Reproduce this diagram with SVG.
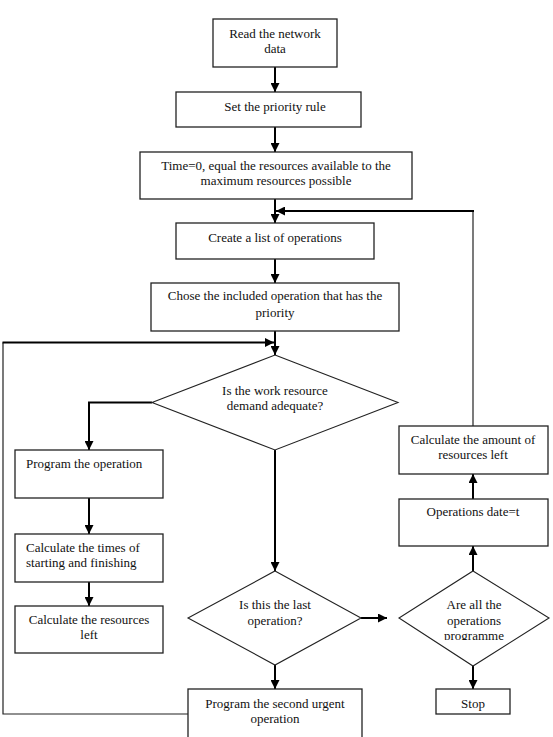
<svg xmlns="http://www.w3.org/2000/svg" width="553" height="737" viewBox="0 0 553 737">
<style>
  .box{fill:#fff;stroke:#222;stroke-width:1.3}
  .dia{fill:#fff;stroke:#222;stroke-width:1.1}
  .t{font-family:"Liberation Serif","Times New Roman",serif;font-size:13px;fill:#111;text-anchor:middle}
  .tl{font-family:"Liberation Serif","Times New Roman",serif;font-size:13px;fill:#111;text-anchor:start}
  .a{fill:none;stroke:#000;stroke-width:2;marker-end:url(#ah)}
  .thick{fill:none;stroke:#000;stroke-width:2}
  .thin{fill:none;stroke:#222;stroke-width:1.2}
</style>
<defs>
  <marker id="ah" viewBox="0 0 10 10" refX="10" refY="5" markerUnits="userSpaceOnUse" markerWidth="9" markerHeight="9" orient="auto">
    <path d="M0,0 L10,5 L0,10 z" fill="#000"/>
  </marker>
  <clipPath id="clip3"><rect x="390" y="560" width="170" height="80"/></clipPath>
</defs>
<rect width="553" height="737" fill="#fff"/>

<g id="connectors">
  <path class="a" d="M275,67 V92"/>
  <path class="a" d="M275,127 V152"/>
  <path class="a" d="M275,199 V223"/>
  <path class="a" d="M275,259 V283"/>
  <path class="a" d="M275,331 V355"/>
  <path class="a" d="M152,402.5 H89 V450"/>
  <path class="a" d="M89,498 V534"/>
  <path class="a" d="M89,582 V606"/>
  <path class="a" d="M275,450 V571"/>
  <path class="a" d="M275,665 V689"/>
  <path class="a" d="M361,618 H387"/>
  <path class="a" d="M473,571 V546"/>
  <path class="a" d="M473,499 V474"/>
  <path class="a" d="M473,666 V689"/>
  <path class="thin" d="M473,426 V211"/>
  <path class="a" d="M474,211 H276"/>
  <path class="thin" d="M188,714 H3 V342.5"/>
  <path class="a" d="M2.5,342.5 H274"/>
</g>

<g id="n1">
  <rect class="box" x="213" y="19" width="124" height="48"/>
  <text class="t" x="275" y="37.5">Read the network</text>
  <text class="t" x="275" y="53">data</text>
</g>
<g id="n2">
  <rect class="box" x="176" y="92" width="185" height="35"/>
  <text class="t" x="275" y="110.5">Set the priority rule</text>
</g>
<g id="n3">
  <rect class="box" x="140" y="152" width="272" height="47"/>
  <text class="t" x="276" y="169.5">Time=0, equal the resources available to the</text>
  <text class="t" x="276" y="185">maximum resources possible</text>
</g>
<g id="n4">
  <rect class="box" x="176" y="223" width="198" height="36"/>
  <text class="t" x="275" y="242">Create a list of operations</text>
</g>
<g id="n5">
  <rect class="box" x="151" y="283" width="248" height="48"/>
  <text class="t" x="275" y="300">Chose the included operation that has the</text>
  <text class="t" x="275" y="316.5">priority</text>
</g>
<g id="d1">
  <polygon class="dia" points="275,355 398,402.5 275,450 152,402.5"/>
  <text class="t" x="275" y="394.5">Is the work resource</text>
  <text class="t" x="275" y="410">demand adequate?</text>
</g>
<g id="n6">
  <rect class="box" x="15" y="450" width="148" height="48"/>
  <text class="tl" x="26" y="468">Program the operation</text>
</g>
<g id="n7">
  <rect class="box" x="15" y="534" width="148" height="48"/>
  <text class="tl" x="26" y="551.5">Calculate the times of</text>
  <text class="tl" x="26" y="566.5">starting and finishing</text>
</g>
<g id="n8">
  <rect class="box" x="15" y="606" width="148" height="47"/>
  <text class="t" x="89" y="623.5">Calculate the resources</text>
  <text class="t" x="89" y="638.5">left</text>
</g>
<g id="d2">
  <polygon class="dia" points="275,571 361,618 275,665 188,618"/>
  <text class="t" x="275" y="608.5">Is this the last</text>
  <text class="t" x="275" y="625">operation?</text>
</g>
<g id="n9">
  <rect class="box" x="188" y="689" width="174" height="60"/>
  <text class="t" x="275" y="707.5">Program the second urgent</text>
  <text class="t" x="275" y="722.5">operation</text>
</g>
<g id="d3">
  <polygon class="dia" points="473,571 549,618 473,666 399,618"/>
  <g clip-path="url(#clip3)">
    <text class="t" x="474" y="608.5">Are all the</text>
    <text class="t" x="474" y="624.5">operations</text>
    <text class="t" x="474" y="640">programme</text>
  </g>
</g>
<g id="stop">
  <rect class="box" x="436" y="689" width="74" height="25"/>
  <text class="t" x="473" y="707.5">Stop</text>
</g>
<g id="n10">
  <rect class="box" x="399" y="499" width="149" height="47"/>
  <text class="t" x="473" y="516">Operations date=t</text>
</g>
<g id="n11">
  <rect class="box" x="399" y="426" width="149" height="48"/>
  <text class="t" x="473" y="443.5">Calculate the amount of</text>
  <text class="t" x="473" y="459">resources left</text>
</g>
</svg>
